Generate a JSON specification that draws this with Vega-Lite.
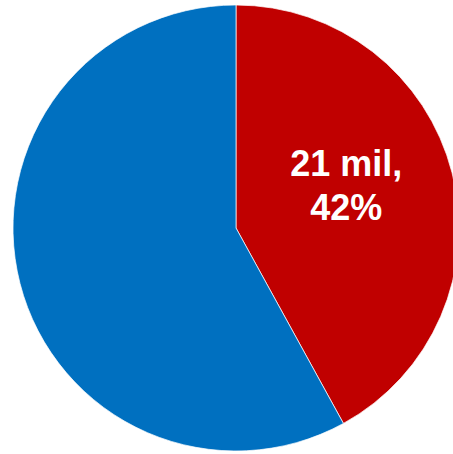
{
  "$schema": "https://vega.github.io/schema/vega-lite/v6.json",
  "width": 446,
  "height": 446,
  "autosize": {"type": "none"},
  "padding": {"left": 13, "top": 5, "right": 0, "bottom": 0},
  "background": "white",
  "view": {"stroke": null},
  "data": {
    "values": [
      {"group": "A", "value": 21, "order": 1, "label": ["21 mil,", "42%"]},
      {"group": "B", "value": 29, "order": 2, "label": ""}
    ]
  },
  "encoding": {
    "theta": {"field": "value", "type": "quantitative", "stack": true},
    "order": {"field": "order", "type": "quantitative"}
  },
  "layer": [
    {
      "mark": {"type": "arc", "stroke": "white", "strokeWidth": 0.7},
      "encoding": {
        "color": {
          "field": "group",
          "type": "nominal",
          "scale": {"domain": ["A", "B"], "range": ["#C00000", "#0070C0"]},
          "legend": null
        }
      }
    },
    {
      "mark": {
        "type": "text",
        "radius": 117,
        "font": "Liberation Sans",
        "fontWeight": "bold",
        "fontSize": 36,
        "color": "white",
        "align": "center",
        "baseline": "middle",
        "lineHeight": 44,
        "dy": -34,
        "dx": -3
      },
      "encoding": {
        "text": {"field": "label"}
      }
    }
  ]
}
